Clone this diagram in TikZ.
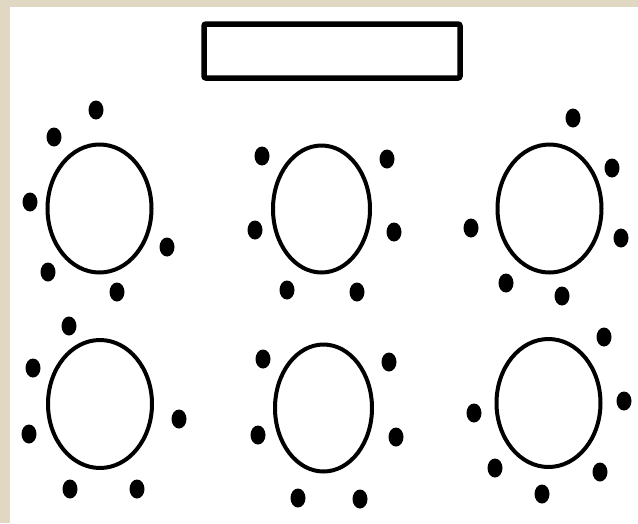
\documentclass[tikz,border=0pt]{standalone}
\usetikzlibrary{shapes.geometric}
\definecolor{paper}{RGB}{224,216,194}
\tikzset{
  tbl/.style={draw=black, line width=4pt, ellipse, inner sep=0pt},
  widetbl/.style={tbl, minimum width=104pt, minimum height=128pt},
  narrowtbl/.style={tbl, minimum width=97pt, minimum height=127pt},
  seat/.style={fill=black, ellipse, inner sep=0pt, minimum width=15pt, minimum height=19pt},
  desk/.style={draw=black, line width=5.5pt, rounded corners=2pt, minimum width=256pt, minimum height=54pt, inner sep=0pt}
}
\begin{document}
\begin{tikzpicture}[x=1pt,y=-1pt]
\useasboundingbox (0,0) rectangle (638,523);
\fill[paper] (0,0) rectangle (638,523);
\fill[white] (10,7) rectangle (638,523);
\node[desk] (desk) at (332,51) {};
% top row tables
\node[widetbl] (t1) at (99.5,208.5) {};
\node[narrowtbl] (t2) at (321.5,209) {};
\node[widetbl] (t3) at (549.5,208.5) {};
% bottom row tables
\node[widetbl] (t4) at (100,404) {};
\node[narrowtbl] (t5) at (323.5,408) {};
\node[widetbl] (t6) at (548.5,403) {};
% seats table 1
\node[seat] (s1a) at (96,110) {};
\node[seat] (s1b) at (54,137) {};
\node[seat] (s1c) at (30,202) {};
\node[seat] (s1d) at (167,247) {};
\node[seat] (s1e) at (48,272) {};
\node[seat] (s1f) at (117,292) {};
% seats table 2
\node[seat] (s2a) at (262,156) {};
\node[seat] (s2b) at (255,230) {};
\node[seat] (s2c) at (287,290) {};
\node[seat] (s2d) at (387,159) {};
\node[seat] (s2e) at (394,232) {};
\node[seat] (s2f) at (357,292) {};
% seats table 3
\node[seat] (s3a) at (573,118) {};
\node[seat] (s3b) at (612,168) {};
\node[seat] (s3c) at (471,228) {};
\node[seat] (s3d) at (621,238) {};
\node[seat] (s3e) at (506,283) {};
\node[seat] (s3f) at (562,296) {};
% seats table 4
\node[seat] (s4a) at (69,326) {};
\node[seat] (s4b) at (33,368) {};
\node[seat] (s4c) at (29,434) {};
\node[seat] (s4d) at (179,419) {};
\node[seat] (s4e) at (70,489) {};
\node[seat] (s4f) at (137,489) {};
% seats table 5
\node[seat] (s5a) at (263,359) {};
\node[seat] (s5b) at (258,435) {};
\node[seat] (s5c) at (298,498) {};
\node[seat] (s5d) at (389,362) {};
\node[seat] (s5e) at (396,437) {};
\node[seat] (s5f) at (360,499) {};
% seats table 6
\node[seat] (s6a) at (604,337) {};
\node[seat] (s6b) at (474,413) {};
\node[seat] (s6c) at (624,401) {};
\node[seat] (s6d) at (495,468) {};
\node[seat] (s6e) at (600,472) {};
\node[seat] (s6f) at (542,494) {};
\end{tikzpicture}
\end{document}
